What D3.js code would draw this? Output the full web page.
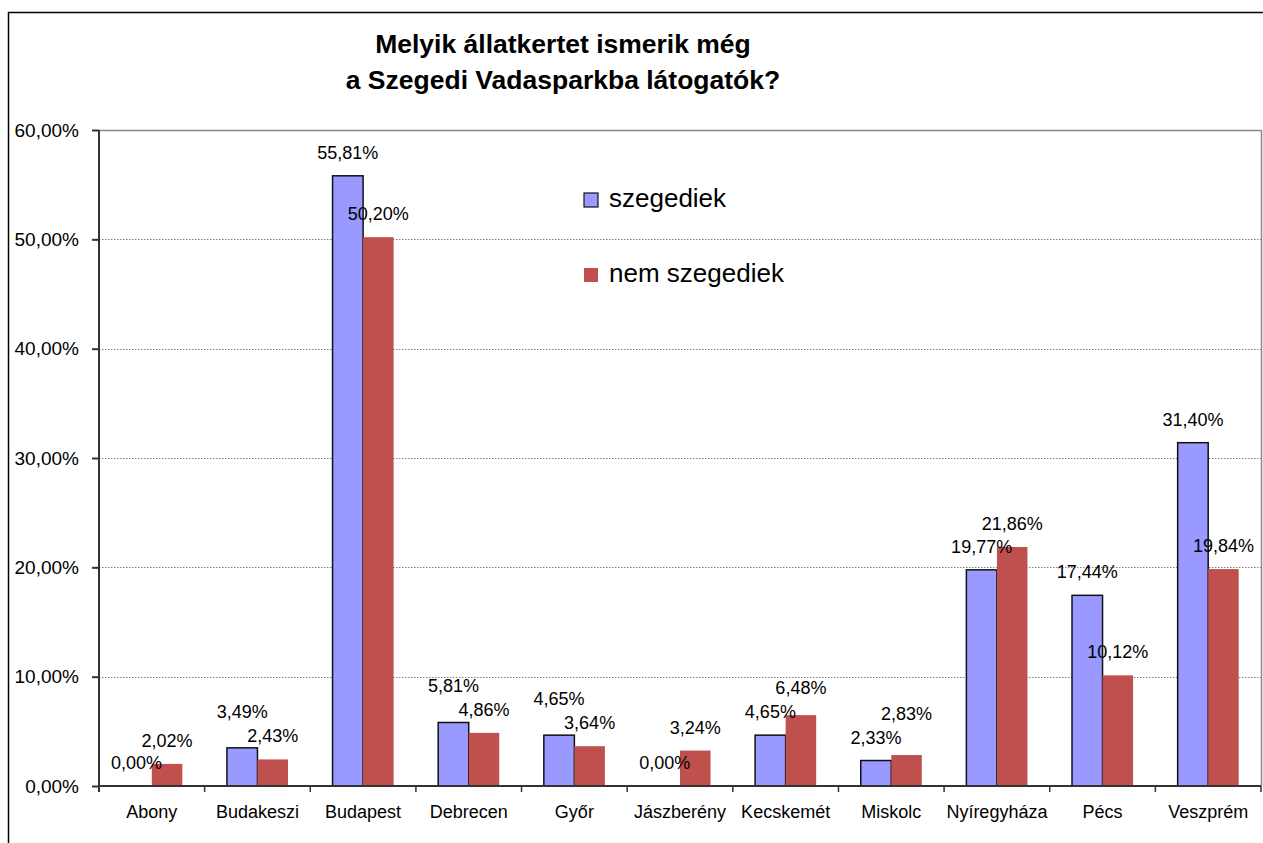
<!DOCTYPE html>
<meta charset="utf-8">
<style>
body {margin: 0; background: #fff;}
text {font-family: "Liberation Sans", Arial, sans-serif; fill: #000;}
.grid line {stroke: #808080; stroke-dasharray: 1.5,1.5;}
</style>
<body>
<script src="https://d3js.org/d3.v7.min.js"></script>
<div id="chart"></div>
</body>
<script>
// data
var titleLines = ["Melyik állatkertet ismerik még", "a Szegedi Vadasparkba látogatók?"];
var cities = ["Abony", "Budakeszi", "Budapest", "Debrecen", "Győr", "Jászberény",
              "Kecskemét", "Miskolc", "Nyíregyháza", "Pécs", "Veszprém"];
var seriesNames = ["szegediek", "nem szegediek"];
var szegediek = [0.00, 3.49, 55.81, 5.81, 4.65, 0.00, 4.65, 2.33, 19.77, 17.44, 31.40];
var nemSzegediek = [2.02, 2.43, 50.20, 4.86, 3.64, 3.24, 6.48, 2.83, 21.86, 10.12, 19.84];
var yTicks = [0, 10, 20, 30, 40, 50, 60];
var colors = ["#9999FF", "#C0504D"];

var width = 1263, height = 843,
    plotL = 99, plotR = 1261, plotT = 130, plotB = 786;

var fmt = function(v) { return v.toFixed(2).replace(".", ",") + "%"; };

var svg = d3.select("#chart").append("svg")
    .attr("width", width)
    .attr("height", height);

// chart frame
svg.append("rect")
    .attr("x", 8.5).attr("y", 12.5)
    .attr("width", width + 10).attr("height", height + 10)
    .attr("fill", "none").attr("stroke", "#000").attr("stroke-width", 1.5);

var x = d3.scaleBand().domain(cities).range([plotL, plotR]);
var y = d3.scaleLinear().domain([0, 60]).range([plotB, plotT]);
var bw = x.bandwidth() * 0.289;

// title
svg.append("text")
    .attr("x", 563).attr("y", 53)
    .attr("text-anchor", "middle")
    .style("font-size", "26.5px").style("font-weight", "bold")
    .selectAll("tspan").data(titleLines).enter().append("tspan")
    .attr("x", 563)
    .attr("dy", function(d, i) { return i ? 36 : 0; })
    .text(function(d) { return d; });

// gridlines
svg.append("g").attr("class", "grid")
    .selectAll("line").data(yTicks.filter(function(d) { return d > 0 && d < 60; }))
    .enter().append("line")
    .attr("x1", plotL).attr("x2", plotR)
    .attr("y1", function(d) { return Math.round(y(d)) + 0.5; })
    .attr("y2", function(d) { return Math.round(y(d)) + 0.5; });

// plot border top/right
svg.append("path")
    .attr("d", "M" + plotL + "," + (plotT + 0.5) + "H" + (plotR + 0.5) + "V" + plotB)
    .attr("fill", "none").attr("stroke", "#888").attr("stroke-width", 1.5);

// bars
var pairs = cities.map(function(c, i) {
    return {city: c, vals: [szegediek[i], nemSzegediek[i]]};
});
var groups = svg.selectAll("g.city").data(pairs).enter().append("g")
    .attr("class", "city")
    .attr("transform", function(d) { return "translate(" + (x(d.city) + x.bandwidth() / 2 - bw) + ",0)"; });

groups.selectAll("rect").data(function(d) { return d.vals; }).enter().append("rect")
    .attr("x", function(d, i) { return i * bw; })
    .attr("y", function(d) { return y(d); })
    .attr("width", bw)
    .attr("height", function(d) { return plotB - y(d); })
    .attr("fill", function(d, i) { return colors[i]; })
    .attr("stroke", function(d, i) { return i === 0 && d > 0 ? "#111" : "none"; })
    .attr("stroke-width", 1.5);

// value labels, with the taller one lifted when the two collide
groups.each(function(d) {
    var base = d.vals.map(function(v) { return y(v) - 17; });
    if (Math.abs(base[0] - base[1]) < 22) {
        var hi = d.vals[0] >= d.vals[1] ? 0 : 1;
        base[hi] = base[1 - hi] - 24;
    }
    d3.select(this).selectAll("text.val").data(d.vals).enter().append("text")
        .attr("class", "val")
        .attr("x", function(v, i) { return i * bw + bw / 2; })
        .attr("y", function(v, i) { return base[i]; })
        .attr("text-anchor", "middle")
        .style("font-size", "18px")
        .text(function(v) { return fmt(v); });
});

// y axis
var yAxis = d3.axisLeft(y).tickValues(yTicks).tickSize(7).tickPadding(13)
    .tickFormat(function(d) { return fmt(d); });
var gy = svg.append("g").attr("transform", "translate(" + plotL + ",0)").call(yAxis);
gy.select(".domain").attr("d", "M0," + plotT + "V" + (plotB + 6));
gy.selectAll(".domain, .tick line").attr("stroke", "#333").attr("stroke-width", 2);
gy.selectAll("text").style("font-size", "19px").attr("fill", "#000");

// x axis
var xAxis = d3.axisBottom(x).tickSize(0).tickPadding(19);
var gx = svg.append("g").attr("transform", "translate(0," + plotB + ")").call(xAxis);
gx.select(".domain").attr("d", "M" + plotL + ",0H" + plotR).attr("stroke", "#333").attr("stroke-width", 2);
gx.selectAll("text").style("font-size", "18px").attr("fill", "#000");
gx.selectAll("line.sep").data(cities).enter().append("line")
    .attr("class", "sep")
    .attr("x1", function(d) { return x(d) + x.bandwidth(); })
    .attr("x2", function(d) { return x(d) + x.bandwidth(); })
    .attr("y1", 0).attr("y2", 6)
    .attr("stroke", "#333").attr("stroke-width", 1.5);

// legend
var legend = svg.selectAll("g.legend").data(seriesNames).enter().append("g")
    .attr("class", "legend")
    .attr("transform", function(d, i) { return "translate(584," + (193 + i * 75) + ")"; });
legend.append("rect")
    .attr("width", 14).attr("height", 14)
    .attr("fill", function(d, i) { return colors[i]; })
    .attr("stroke", function(d, i) { return i === 0 ? "#111" : "none"; })
    .attr("stroke-width", 1.2);
legend.append("text")
    .attr("x", 25).attr("y", 14)
    .style("font-size", "26px")
    .text(function(d) { return d; });
</script>
